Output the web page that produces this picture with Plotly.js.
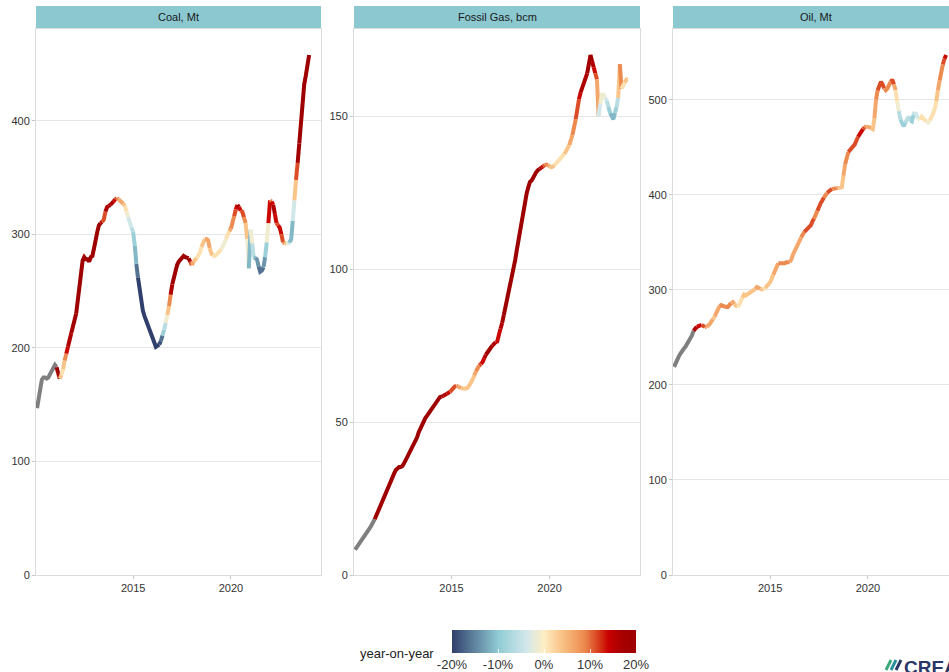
<!DOCTYPE html>
<html>
<head>
<meta charset="utf-8">
<script src="https://cdn.plot.ly/plotly-3.0.1.min.js"></script>
<style>
html,body{margin:0;padding:0;overflow:hidden;background:#fff;}
#chart{width:960px;height:672px;}
</style>
</head>
<body>
<div id="chart"></div>
<script>
// ---- data: 12-month rolling totals, monthly Jan 2010 .. Dec 2023 ----
const firstYear = 2010;
const panelTitles = ["Coal, Mt", "Fossil Gas, bcm", "Oil, Mt"];

const coalMt = [
  147,154,166,172,174,174,173,174,177,180,183,185,
  183,178,173,176,181,189,195,201,207,213,218,222,
  230,240,252,264,277,280,278,278,276,280,281,288,
  297,302,308,310,311,313,320,324,325,326,327,329,
  331,332,331,330,329,327,325,320,315,311,306,302,
  290,274,262,252,243,233,228,224,221,217,213,209,
  204,201,202,203,206,211,216,222,229,237,247,256,
  263,268,273,276,278,280,281,280,279,279,276,273,
  276,277,279,281,284,289,294,296,296,295,288,283,
  282,281,282,283,285,287,289,292,296,300,303,305,
  310,316,322,326,324,321,320,315,310,296,270,304,
  292,280,279,278,272,267,268,271,280,293,310,330,
  329,326,318,310,308,306,300,293,292,292,292,293,
  296,312,330,348,363,380,398,418,432,440,450,458
];

const gasBcm = [
  8.3,9.0,9.7,10.3,11.0,11.8,12.6,13.5,14.4,15.3,16.2,17.2,
  18.2,19.4,20.6,21.8,23.2,24.8,26.3,27.5,28.7,30.0,31.2,32.3,
  33.3,34.3,35.0,35.3,35.3,35.6,36.5,37.6,38.6,39.6,40.7,41.7,
  42.6,43.6,45.0,46.7,47.8,49.2,50.6,51.3,52.0,52.8,53.5,54.4,
  55.3,55.7,56.5,57.5,58.2,58.3,58.6,59.0,59.2,59.5,59.8,60.5,
  61.2,61.6,61.9,61.7,61.2,61.0,60.9,60.9,61.0,61.3,62.0,63.0,
  64.0,65.2,66.6,67.8,68.5,69.0,69.6,70.8,72.0,73.0,73.5,74.3,
  75.0,75.6,76.1,76.3,78.5,80.5,82.4,85.0,87.5,89.9,92.0,94.3,
  96.6,99.8,103.0,106.3,109.5,112.8,116.0,119.2,122.5,124.8,126.8,128.5,
  129.0,130.0,131.0,131.8,132.4,132.8,133.2,133.6,134.0,134.2,134.0,133.6,
  133.3,133.5,134.0,134.6,135.2,135.6,136.2,136.9,137.6,138.4,139.3,140.5,
  142.0,143.8,146.0,149.0,152.0,155.5,157.8,159.5,161.0,162.2,164.0,167.0,
  170,168,166,164,162,150,154,157,157,156,155,153,
  151,150,149,151,153,156,167,159,160,161,162,162
];

const oilMt = [
  219,223,227,230,233,236,238,240,243,245,249,252,
  257,259,261,262,263,263,262,261,261,262,264,267,
  269,272,276,280,283,284,283,282,282,282,284,286,
  287,285,283,282,284,288,292,295,294,295,297,298,
  298,299,301,303,302,301,300,300,302,304,306,308,
  312,316,320,324,328,328,327,327,328,329,329,329,
  332,337,341,345,348,351,355,358,361,363,365,366,
  368,372,375,378,383,388,391,394,397,399,402,404,
  405,406,406,407,407,407,408,408,420,432,441,445,
  447,448,450,453,457,461,464,467,469,471,472,472,
  471,470,469,480,500,510,516,519,516,512,510,512,
  515,519,521,516,510,498,488,479,474,472,476,480,
  482,478,477,484,487,484,480,479,482,480,478,477,
  476,478,481,485,490,498,510,520,530,537,543,547
];

const yTicks = [[0,100,200,300,400],[0,50,100,150],[0,100,200,300,400,500]];
const xTickYears = ["2015","2020"];
const legendTickVals = [-0.2,-0.1,0,0.1,0.2];
const legendTickText = ["-20%","-10%","0%","10%","20%"];

// ---- styling ----
const W = 960, H = 672;
const panelPx = [[36,321],[354,640],[673,958]];
const plotTop = 29, plotBottom = 575, stripTop = 6;
const stops = [
  [0.00,'#313f6c'],[0.25,'#8fcad3'],[0.40,'#cfe7eb'],[0.50,'#feeec4'],
  [0.60,'#f9c184'],[0.72,'#ec8a4f'],[0.80,'#d63a1b'],[0.85,'#c80000'],
  [0.92,'#a80000'],[1.00,'#9e0000']
];
function hex2rgb(h){return [parseInt(h.substr(1,2),16),parseInt(h.substr(3,2),16),parseInt(h.substr(5,2),16)];}
function colorAt(t){
  t = Math.max(0, Math.min(1, t));
  for (let k=1;k<stops.length;k++){
    if (t <= stops[k][0]){
      const a = stops[k-1], b = stops[k];
      const f = (t - a[0])/(b[0]-a[0]);
      const ca = hex2rgb(a[1]), cb = hex2rgb(b[1]);
      const c = ca.map((v,j)=>Math.round(v+(cb[j]-v)*f));
      return 'rgb('+c.join(',')+')';
    }
  }
  return stops[stops.length-1][1];
}
function yoyColor(r){
  if (r === null) return '#7f7f7f';
  const q = Math.floor(r/0.025)*0.025 + 0.0125;
  return colorAt((q+0.2)/0.4);
}
function monthDate(i){
  const k = i+1;
  const y = firstYear + Math.floor(k/12);
  const m = k%12 + 1;
  return y + '-' + String(m).padStart(2,'0') + '-01';
}

const series = [coalMt, gasBcm, oilMt];
const traces = [];
series.forEach((vals, p) => {
  const xa = p===0 ? 'x' : 'x'+(p+1);
  const ya = p===0 ? 'y' : 'y'+(p+1);
  const dates = vals.map((_,i)=>monthDate(i));
  const cols = vals.map((v,i)=> i<12 ? yoyColor(null) : yoyColor(v/vals[i-12]-1));
  let start = 0;
  for (let i=1;i<=vals.length-1;i++){
    const segCol = cols[i-1];
    const nextCol = i < vals.length-1 ? cols[i] : null;
    if (nextCol !== segCol){
      traces.push({
        type:'scatter', mode:'lines', xaxis:xa, yaxis:ya,
        x: dates.slice(start, i+1), y: vals.slice(start, i+1),
        line:{color:segCol, width:4, shape:'linear'},
        hoverinfo:'skip', showlegend:false
      });
      start = i;
    }
  }
});

// dummy trace for colour bar
const cs = [];
for (let k=0;k<=40;k++){ cs.push([k/40, colorAt(k/40)]); }
traces.push({
  type:'scatter', mode:'markers', xaxis:'x', yaxis:'y',
  x:['2012-01-01','2013-01-01'], y:[-500,-500],
  marker:{size:2, color:[-0.2,0.2], cmin:-0.2, cmax:0.2, colorscale:cs, showscale:true,
    colorbar:{orientation:'h', x:544/W, xanchor:'center', y:1-630/H, yanchor:'top',
      len:184, lenmode:'pixels', thickness:23, thicknessmode:'pixels',
      outlinewidth:0, tickmode:'array', tickvals:legendTickVals, ticktext:legendTickText,
      ticks:'inside', ticklen:4, tickcolor:'rgba(255,255,255,0.8)',
      tickfont:{size:13, color:'#333', family:'Liberation Sans, Arial, sans-serif'},
      xpad:0, ypad:0, bgcolor:'rgba(0,0,0,0)'}},
  hoverinfo:'skip', showlegend:false
});

const layout = {
  width: W, height: H,
  margin:{l:0,r:0,t:0,b:0, autoexpand:false},
  paper_bgcolor:'#ffffff', plot_bgcolor:'#ffffff',
  font:{family:'Liberation Sans, Arial, sans-serif', size:11, color:'#333'},
  showlegend:false, hovermode:false,
  shapes:[], annotations:[]
};
series.forEach((vals,p)=>{
  const sx = p===0 ? '' : String(p+1);
  const ymax = Math.max(...vals)*1.05;
  layout['xaxis'+sx] = {
    domain:[panelPx[p][0]/W, panelPx[p][1]/W], anchor:'y'+sx,
    type:'date', range:['2010-01-12','2024-08-10'],
    tickmode:'array', tickvals:xTickYears.map(y=>y+'-01-01'), ticktext:xTickYears,
    showgrid:false, zeroline:false,
    showline:true, mirror:true, linecolor:'#dcdcdc', linewidth:1,
    ticks:'outside', ticklen:3, tickcolor:'#c8c8c8',
    tickfont:{size:11, color:'#333'}
  };
  layout['yaxis'+sx] = {
    domain:[1-plotBottom/H, 1-plotTop/H], anchor:'x'+sx,
    range:[0, ymax], tickmode:'array', tickvals:yTicks[p],
    showgrid:true, gridcolor:'#e6e6e6', gridwidth:1, zeroline:false,
    showline:true, mirror:true, linecolor:'#dcdcdc', linewidth:1,
    ticks:'outside', ticklen:3, tickcolor:'#c8c8c8',
    tickfont:{size:11, color:'#333'}
  };
  layout.shapes.push({type:'rect', xref:'paper', yref:'paper',
    x0:panelPx[p][0]/W, x1:panelPx[p][1]/W, y0:1-plotTop/H, y1:1-stripTop/H,
    fillcolor:'#8bc8d0', line:{width:0}, layer:'below'});
  layout.annotations.push({xref:'paper', yref:'paper',
    x:(panelPx[p][0]+panelPx[p][1])/2/W, y:1-(plotTop+stripTop)/2/H,
    xanchor:'center', yanchor:'middle', showarrow:false,
    text:panelTitles[p], font:{size:11, color:'#1a1a1a'}});
});
layout.annotations.push({xref:'paper', yref:'paper', x:358/W, y:1-653/H,
  xanchor:'left', yanchor:'middle', showarrow:false, text:'year-on-year',
  font:{size:13, color:'#222'}});
layout.annotations.push({xref:'paper', yref:'paper', x:902/W, y:1-655/H,
  xanchor:'left', yanchor:'top', showarrow:false, text:'<b>CREA</b>',
  font:{size:19, color:'#2a3766'}});
// small logo stripes
[['#3aa878',886],['#2a8fa0',891],['#2a3766',896]].forEach(s=>{
  layout.shapes.push({type:'line', xref:'paper', yref:'paper',
    x0:s[1]/W, y0:1-670/H, x1:(s[1]+5)/W, y1:1-660/H, line:{color:s[0], width:3}});
});

Plotly.newPlot('chart', traces, layout, {displayModeBar:false, staticPlot:true});
</script>
</body>
</html>
